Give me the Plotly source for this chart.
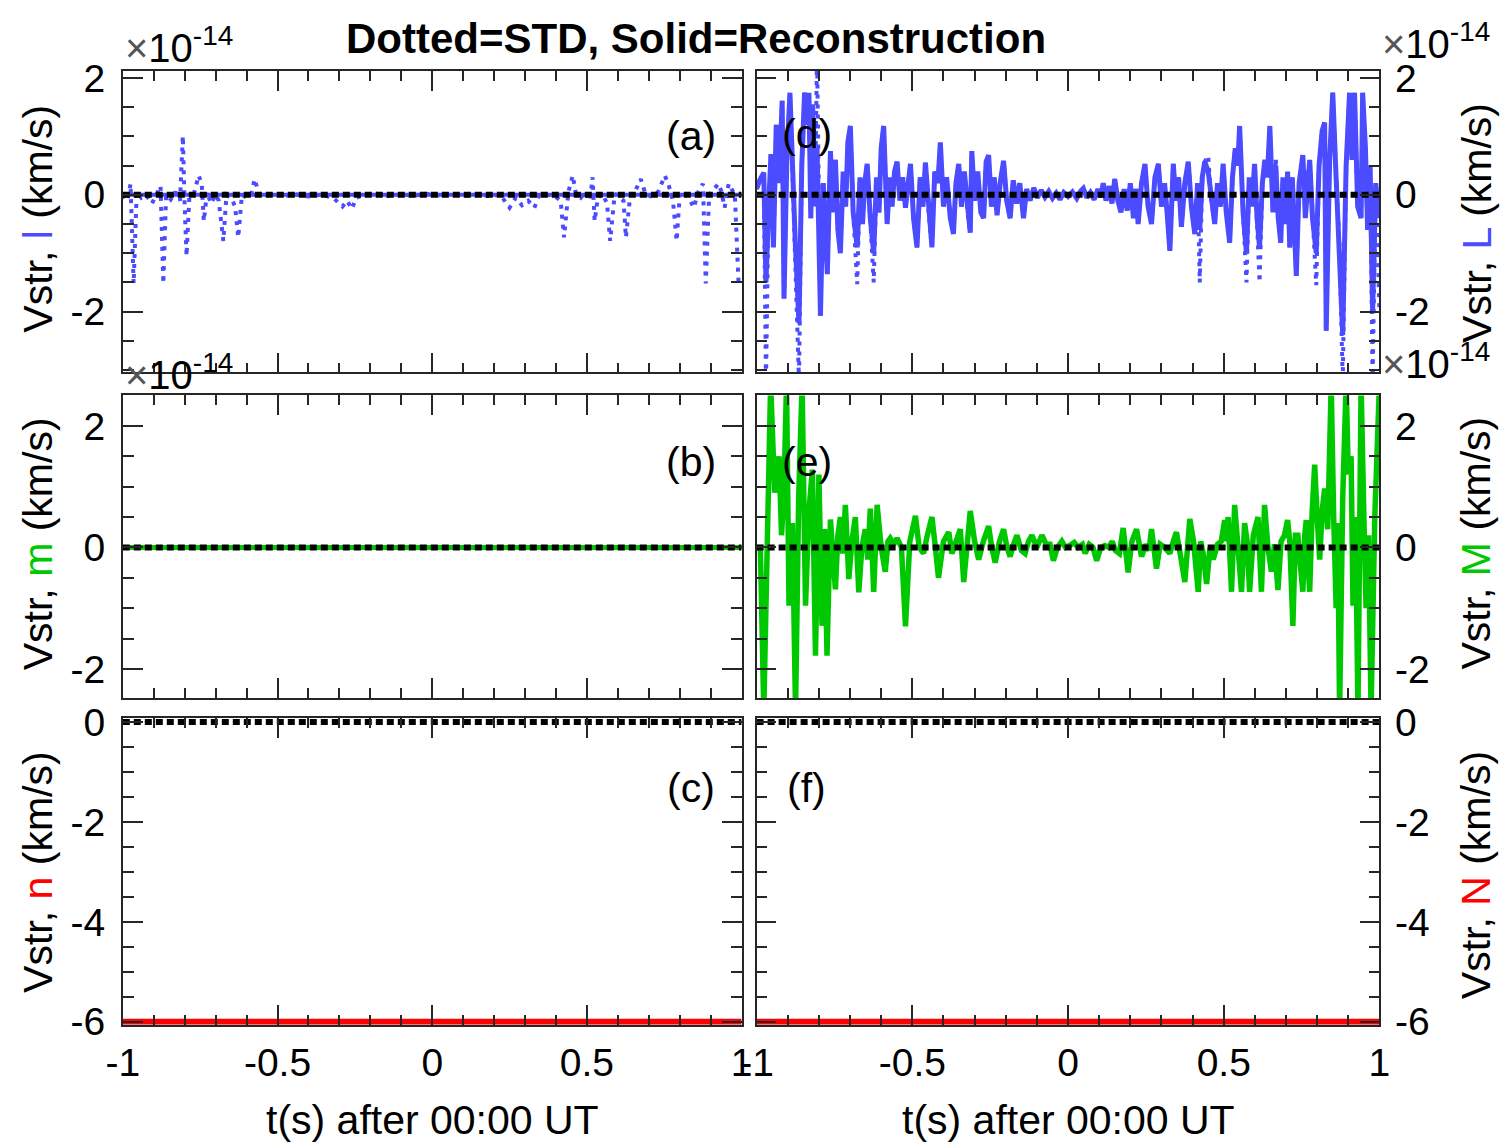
import plotly.graph_objects as go

# ---------------- data (values in units of 1e-14 km/s) ----------------
x_tickvals = [-1, -0.5, 0, 0.5, 1]
x_ticktext = ["-1", "-0.5", "0", "0.5", "1"]
y_tickvals_ab = [-2, 0, 2]
y_ticktext_ab = ["-2", "0", "2"]
y_tickvals_c = [-6, -4, -2, 0]
y_ticktext_c = ["-6", "-4", "-2", "0"]

line_t = [-1.0, 1.0]
zero_v = [0.0, 0.0]
n_recon = [-6.0, -6.0]

# panel (a): STD of l component (dotted blue)
a_t = [
    -1.000, -0.985, -0.975, -0.965, -0.955, -0.940, -0.925, -0.906, -0.890, -0.878,
    -0.869, -0.860, -0.845, -0.830, -0.815, -0.806, -0.800, -0.794, -0.785, -0.770,
    -0.755, -0.745, -0.738, -0.728, -0.715, -0.700, -0.690, -0.675, -0.665, -0.650,
    -0.637, -0.627, -0.615, -0.600, -0.585, -0.574, -0.560, -0.540, -0.520, -0.480,
    -0.440, -0.400, -0.360, -0.320, -0.290, -0.275, -0.260, -0.245, -0.220, -0.180,
    -0.140, -0.100, -0.060, -0.020, 0.020, 0.060, 0.100, 0.140, 0.180, 0.220,
    0.250, 0.270, 0.290, 0.310, 0.330, 0.345, 0.370, 0.395, 0.415, 0.426,
    0.440, 0.454, 0.465, 0.480, 0.495, 0.510, 0.518, 0.525, 0.535, 0.550,
    0.565, 0.575, 0.590, 0.605, 0.618, 0.626, 0.640, 0.655, 0.674, 0.690,
    0.710, 0.730, 0.752, 0.765, 0.778, 0.790, 0.800, 0.815, 0.830, 0.845,
    0.860, 0.875, 0.884, 0.895, 0.912, 0.925, 0.935, 0.945, 0.958, 0.968,
    0.978, 0.990, 1.000,
]
a_std = [
    0.00, -0.10, 0.19, -1.52, 0.05, -0.05, 0.00, -0.15, 0.02, 0.15,
    -1.52, 0.00, -0.08, 0.05, -0.10, 1.01, -0.20, -1.05, -0.05, 0.02,
    0.33, 0.20, -0.45, 0.05, -0.15, 0.00, -0.10, -0.79, 0.00, -0.05,
    -0.20, -0.73, 0.00, -0.05, 0.00, 0.27, 0.02, -0.03, 0.02, -0.02,
    0.01, -0.03, 0.00, -0.05, -0.20, -0.10, -0.24, -0.05, 0.00, 0.02,
    -0.02, 0.01, -0.02, 0.02, -0.01, 0.02, -0.02, 0.01, -0.02, 0.00,
    -0.22, -0.05, -0.18, -0.10, -0.22, -0.02, 0.00, -0.02, -0.10, -0.73,
    0.05, 0.33, 0.00, -0.05, 0.05, -0.10, 0.30, -0.45, -0.05, 0.02,
    -0.15, -0.79, 0.02, -0.05, -0.10, -0.73, 0.00, 0.05, 0.27, 0.00,
    -0.03, 0.05, 0.33, 0.15, -0.10, -0.79, 0.00, 0.05, -0.05, -0.22,
    0.05, 0.19, -1.52, 0.00, 0.10, 0.19, 0.05, -0.22, 0.19, 0.10,
    0.00, -1.52, -1.52,
]

# panel (d): L component, reconstruction (solid) and STD (dotted)
d_t = [
    -1.000, -0.990, -0.977, -0.970, -0.962, -0.954, -0.946, -0.937, -0.928, -0.918,
    -0.912, -0.903, -0.893, -0.885, -0.876, -0.864, -0.855, -0.846, -0.838, -0.832,
    -0.826, -0.820, -0.813, -0.806, -0.795, -0.786, -0.780, -0.773, -0.763, -0.755,
    -0.747, -0.739, -0.731, -0.722, -0.714, -0.707, -0.699, -0.690, -0.677, -0.668,
    -0.660, -0.653, -0.645, -0.635, -0.624, -0.615, -0.607, -0.600, -0.592, -0.581,
    -0.572, -0.565, -0.557, -0.549, -0.540, -0.531, -0.522, -0.514, -0.506, -0.496,
    -0.485, -0.475, -0.466, -0.458, -0.448, -0.437, -0.428, -0.418, -0.410, -0.400,
    -0.390, -0.378, -0.368, -0.360, -0.351, -0.342, -0.333, -0.323, -0.314, -0.309,
    -0.300, -0.290, -0.280, -0.271, -0.263, -0.255, -0.246, -0.237, -0.228, -0.218,
    -0.207, -0.197, -0.186, -0.176, -0.165, -0.155, -0.143, -0.133, -0.122, -0.110,
    -0.098, -0.086, -0.074, -0.062, -0.050, -0.038, -0.026, -0.014, 0.000, 0.014,
    0.028, 0.040, 0.049, 0.060, 0.072, 0.084, 0.096, 0.105, 0.113, 0.122,
    0.132, 0.141, 0.150, 0.160, 0.170, 0.180, 0.190, 0.200, 0.210, 0.218,
    0.225, 0.236, 0.247, 0.257, 0.268, 0.279, 0.290, 0.300, 0.310, 0.318,
    0.327, 0.338, 0.346, 0.355, 0.364, 0.375, 0.386, 0.396, 0.407, 0.416,
    0.423, 0.431, 0.439, 0.450, 0.460, 0.471, 0.480, 0.489, 0.498, 0.508,
    0.519, 0.528, 0.537, 0.545, 0.551, 0.562, 0.573, 0.582, 0.590, 0.599,
    0.607, 0.615, 0.624, 0.632, 0.640, 0.648, 0.658, 0.667, 0.675, 0.683,
    0.690, 0.698, 0.705, 0.712, 0.720, 0.726, 0.733, 0.742, 0.754, 0.762,
    0.770, 0.776, 0.785, 0.797, 0.806, 0.816, 0.824, 0.829, 0.840, 0.850,
    0.860, 0.872, 0.882, 0.893, 0.904, 0.912, 0.920, 0.930, 0.941, 0.946,
    0.955, 0.962, 0.970, 0.978, 0.988, 1.000,
]
d_recon = [
    0.10, 0.25, 0.38, -1.50, -0.30, 0.70, -0.90, 1.20, 0.20, 1.61,
    -1.78, 0.60, 1.75, 0.30, -0.80, -2.20, 0.50, 1.75, 1.20, 1.75,
    -0.40, 1.55, -0.20, 0.80, -2.07, 0.20, -0.60, -1.36, 0.75, -0.30,
    0.60, -0.60, -1.00, 0.40, -0.20, 0.90, 1.18, -0.30, -0.90, 0.30,
    -0.50, 0.20, 0.53, -0.40, -1.00, 0.30, -0.30, 0.80, 1.18, -0.50,
    0.30, -0.20, 0.40, 0.57, -0.10, 0.30, -0.22, 0.20, 0.53, -0.40,
    -0.90, 0.30, -0.20, 0.55, -0.30, -0.90, 0.40, 0.20, 0.90, -0.20,
    0.30, -0.40, -0.67, 0.20, 0.53, -0.20, 0.40, -0.30, -0.65, 0.75,
    -0.10, 0.40, -0.30, -0.40, 0.57, 0.68, -0.20, 0.30, -0.35, 0.20,
    0.58, -0.10, -0.40, 0.25, -0.15, 0.20, -0.40, 0.10, -0.10, 0.12,
    -0.05, 0.08, -0.04, 0.06, -0.06, 0.03, -0.08, 0.04, -0.03, 0.05,
    -0.06, 0.06, 0.11, -0.05, 0.04, -0.08, 0.10, -0.04, 0.20, -0.10,
    0.15, -0.15, 0.27, -0.10, -0.30, 0.10, -0.27, 0.20, -0.40, 0.10,
    -0.50, 0.20, 0.53, -0.20, -0.50, 0.30, 0.53, -0.20, 0.20, -0.30,
    -0.96, 0.53, -0.10, 0.30, -0.55, 0.20, 0.57, -0.20, -0.67, 0.20,
    -0.60, 0.30, 0.57, 0.40, -0.10, -0.50, 0.20, -0.20, 0.53, -0.30,
    -0.82, 0.30, 0.80, 0.50, 1.18, -0.30, -1.00, 0.30, -0.20, 0.53,
    -0.40, -0.90, 0.20, 0.60, 0.30, 1.18, -0.30, 0.50, -0.40, -0.82,
    0.30, -0.50, 0.40, -0.90, 0.30, -0.50, -1.39, 0.20, 0.68, -0.40,
    0.40, 0.60, -0.40, -1.00, 0.50, 1.10, 1.24, -2.33, 0.60, 1.75,
    0.40, -0.90, -2.40, 0.50, 1.75, 0.60, 1.75, -0.20, -0.40, 1.75,
    0.80, -0.60, 0.50, -2.00, 0.20, -0.40,
]
d_std = [
    0.10, 0.25, 0.38, -3.20, -0.30, 0.70, -0.90, 1.20, 0.20, 1.61,
    -1.78, 0.60, 1.75, 0.30, -0.80, -3.20, 0.50, 1.75, 1.20, 1.75,
    -0.40, 1.55, -0.20, 2.40, -2.07, 0.20, -0.60, -1.36, 0.75, -0.30,
    0.60, -0.60, -1.00, 0.40, -0.20, 0.90, 1.18, -0.30, -1.53, 0.30,
    -0.50, 0.20, 0.53, -0.40, -1.50, 0.30, -0.30, 0.80, 1.18, -0.50,
    0.30, -0.20, 0.40, 0.57, -0.10, 0.30, -0.22, 0.20, 0.53, -0.40,
    -0.90, 0.30, -0.20, 0.55, -0.30, -0.90, 0.40, 0.20, 0.90, -0.20,
    0.30, -0.40, -0.67, 0.20, 0.53, -0.20, 0.40, -0.30, -0.65, 0.75,
    -0.10, 0.40, -0.30, -0.40, 0.57, 0.68, -0.20, 0.30, -0.35, 0.20,
    0.58, -0.10, -0.40, 0.25, -0.15, 0.20, -0.40, 0.10, -0.10, 0.12,
    -0.05, 0.08, -0.04, 0.06, -0.06, 0.03, -0.08, 0.04, -0.03, 0.05,
    -0.06, 0.06, 0.11, -0.05, 0.04, -0.08, 0.10, -0.04, 0.20, -0.10,
    0.15, -0.15, 0.27, -0.10, -0.30, 0.10, -0.27, 0.20, -0.40, 0.10,
    -0.50, 0.20, 0.53, -0.20, -0.50, 0.30, 0.53, -0.20, 0.20, -0.30,
    -0.96, 0.53, -0.10, 0.30, -0.55, 0.20, 0.57, -0.20, -0.67, 0.20,
    -1.50, 0.30, 0.57, 0.67, -0.10, -0.50, 0.20, -0.20, 0.53, -0.30,
    -0.82, 0.30, 0.80, 0.50, 1.18, -0.30, -1.50, 0.30, -0.20, 0.53,
    -0.40, -1.50, 0.20, 0.60, 0.30, 1.18, -0.30, 0.62, -0.40, -0.82,
    0.30, -0.50, 0.40, -0.90, 0.30, -0.50, -1.39, 0.20, 0.68, -0.40,
    0.40, 0.60, -0.40, -1.55, 0.50, 1.10, 1.24, -2.33, 0.60, 1.75,
    0.40, -0.90, -3.20, 0.50, 1.75, 0.60, 1.75, -0.20, -0.40, 1.75,
    0.80, -0.60, 0.50, -3.20, 0.20, -2.00,
]

# panel (e): M component reconstruction (solid green)
e_t = [
    -1.000, -0.988, -0.977, -0.966, -0.955, -0.942, -0.928, -0.920, -0.912, -0.904,
    -0.896, -0.885, -0.875, -0.865, -0.854, -0.843, -0.832, -0.821, -0.811, -0.800,
    -0.790, -0.782, -0.774, -0.763, -0.755, -0.747, -0.739, -0.731, -0.723, -0.715,
    -0.704, -0.694, -0.683, -0.672, -0.662, -0.651, -0.643, -0.635, -0.624, -0.613,
    -0.600, -0.587, -0.578, -0.571, -0.560, -0.549, -0.535, -0.522, -0.508, -0.498,
    -0.490, -0.478, -0.464, -0.452, -0.437, -0.426, -0.416, -0.400, -0.383, -0.373,
    -0.360, -0.346, -0.335, -0.325, -0.314, -0.300, -0.287, -0.272, -0.255, -0.245,
    -0.234, -0.220, -0.207, -0.196, -0.186, -0.175, -0.164, -0.150, -0.138, -0.127,
    -0.116, -0.100, -0.084, -0.070, -0.058, -0.047, -0.034, -0.020, -0.008, 0.005,
    0.020, 0.032, 0.046, 0.055, 0.068, 0.080, 0.092, 0.105, 0.118, 0.130,
    0.142, 0.152, 0.165, 0.177, 0.193, 0.205, 0.220, 0.236, 0.250, 0.260,
    0.268, 0.284, 0.296, 0.310, 0.327, 0.338, 0.348, 0.360, 0.375, 0.391,
    0.403, 0.418, 0.426, 0.434, 0.445, 0.456, 0.466, 0.480, 0.492, 0.503,
    0.509, 0.514, 0.525, 0.535, 0.546, 0.557, 0.567, 0.575, 0.583, 0.595,
    0.610, 0.621, 0.631, 0.642, 0.653, 0.663, 0.674, 0.684, 0.695, 0.705,
    0.712, 0.722, 0.730, 0.738, 0.746, 0.754, 0.760, 0.765, 0.772, 0.776,
    0.784, 0.792, 0.800, 0.808, 0.816, 0.824, 0.834, 0.845, 0.853, 0.861,
    0.866, 0.872, 0.882, 0.893, 0.900, 0.909, 0.915, 0.923, 0.931, 0.941,
    0.950, 0.957, 0.965, 0.973, 0.985, 0.995, 1.000,
]
e_recon = [
    0.00, 0.00, -2.70, 0.50, 2.70, 0.90, 1.50, 0.20, 0.95, 2.70,
    -0.96, 0.40, -2.70, 0.80, 2.70, -0.96, 0.60, 1.28, -1.78, 1.20,
    -1.29, 0.30, -1.78, 0.46, -0.20, -0.69, 0.20, 0.50, -0.10, 0.70,
    -0.52, 0.10, 0.50, -0.74, 0.00, 0.30, -0.20, 0.64, -0.73, 0.70,
    0.00, -0.40, 0.10, 0.15, 0.05, 0.15, 0.00, -1.30, 0.10, 0.30,
    0.52, 0.00, -0.10, 0.20, 0.50, 0.00, -0.50, 0.10, 0.25, -0.10,
    0.10, 0.30, -0.57, 0.10, 0.60, 0.10, -0.20, 0.10, 0.35, 0.00,
    -0.25, 0.10, 0.30, 0.00, -0.15, 0.05, 0.20, -0.05, -0.10, 0.10,
    0.20, 0.00, 0.20, 0.05, 0.05, -0.22, 0.00, 0.10, 0.00, 0.03,
    0.08, 0.00, 0.05, -0.10, 0.05, 0.00, -0.22, 0.00, 0.03, 0.00,
    0.10, -0.05, -0.10, 0.32, -0.41, 0.10, 0.30, -0.15, 0.05, -0.05,
    0.30, -0.35, 0.05, 0.00, -0.10, 0.10, 0.25, -0.10, -0.57, 0.47,
    0.10, -0.73, 0.10, -0.10, -0.60, 0.00, -0.20, 0.05, 0.10, 0.45,
    0.10, 0.50, -0.73, 0.70, 0.10, -0.73, 0.40, 0.10, -0.73, 0.20,
    0.50, -0.73, 0.70, 0.00, -0.40, 0.05, -0.70, 0.10, 0.20, 0.45,
    0.10, -1.29, 0.20, 0.20, -0.30, -0.73, 0.20, 0.45, -0.40, -0.73,
    0.60, 1.36, 0.50, -0.20, 0.60, 0.97, 0.30, 2.70, 0.50, -1.00,
    0.40, -2.70, 0.80, 2.70, 1.20, 1.50, -0.96, 0.50, -2.70, 2.70,
    0.50, -1.00, 0.20, -2.70, 0.50, 2.70, 2.70,
]

# ---------------- styling ----------------
W, H = 1511, 1143
BLUE = "#4b4bff"
GREEN = "#00c800"
RED = "#ff0000"
AX = "#262626"
FONT = "Liberation Sans, Arial, sans-serif"
TICK_FS = 39
LAB_FS = 41

# the viewer frames the page with a small inset; place things so that the
# final picture lands on the reference pixel positions
OX, SX = 15.0, 0.9833
OY, SY = 16.1, 0.9696


def px(x):
    return ((x - OX) / SX) / W


def py(y):
    return 1 - ((y - OY) / SY) / H


col_dom = {1: [px(121), px(741)], 2: [px(756), px(1380)]}
row_dom = {1: [py(372), py(70)], 2: [py(698), py(395)], 3: [py(1025), py(718)]}
row_rng = {1: [-3.045, 2.125], 2: [-2.48, 2.5], 3: [-6.06, 0.08]}

fig = go.Figure()

# axis index: a=1, b=2, c=3 (left column), d=4, e=5, f=6 (right column)
panels = {1: (1, 1), 2: (2, 1), 3: (3, 1), 4: (1, 2), 5: (2, 2), 6: (3, 2)}

layout = dict(
    width=W, height=H, margin=dict(l=0, r=0, t=0, b=0),
    paper_bgcolor="white", plot_bgcolor="white", showlegend=False,
    font=dict(family=FONT, color="black"),
)

for k, (r, c) in panels.items():
    xs = "" if k == 1 else str(k)
    xname, yname = "xaxis" + xs, "yaxis" + xs
    bottom = (r == 3)
    layout[xname] = dict(
        domain=col_dom[c], anchor="y" + xs, range=[-1, 1],
        tickmode="array", tickvals=x_tickvals, ticktext=x_ticktext,
        ticks="inside", ticklen=20, tickwidth=1.5, tickcolor=AX,
        showline=True, linecolor=AX, linewidth=1.5, mirror="allticks",
        showgrid=False, zeroline=False, showticklabels=bottom,
        tickfont=dict(size=TICK_FS, family=FONT, color="black"),
        ticklabelstandoff=3,
        minor=dict(ticks="inside", dtick=0.1, tick0=-1, ticklen=10,
                   tickwidth=1.5, tickcolor=AX, showgrid=False),
    )
    if r == 3:
        tv, tt = y_tickvals_c, y_ticktext_c
    else:
        tv, tt = y_tickvals_ab, y_ticktext_ab
    layout[yname] = dict(
        domain=row_dom[r], anchor="x" + xs, range=row_rng[r],
        side="left" if c == 1 else "right",
        tickmode="array", tickvals=tv, ticktext=tt,
        ticks="inside", ticklen=20, tickwidth=1.5, tickcolor=AX,
        showline=True, linecolor=AX, linewidth=1.5, mirror="allticks",
        showgrid=False, zeroline=False, showticklabels=True,
        tickfont=dict(size=TICK_FS, family=FONT, color="black"),
        ticklabelstandoff=8 if c == 1 else 6,
        minor=dict(ticks="inside", dtick=0.5, tick0=0, ticklen=11,
                   tickwidth=1.5, tickcolor=AX, showgrid=False),
    )


def add(k, x, y, color, width, dash="solid"):
    xs = "" if k == 1 else str(k)
    fig.add_trace(go.Scatter(
        x=x, y=y, mode="lines", xaxis="x" + xs, yaxis="y" + xs,
        line=dict(color=color, width=width, dash=dash), hoverinfo="skip",
    ))


BLACK_DOT = "7px,4px"
BLUE_DOT = "4px,6px"

# (a)
add(1, line_t, zero_v, BLUE, 4)
add(1, a_t, a_std, BLUE, 4, BLUE_DOT)
add(1, line_t, zero_v, "black", 6, BLACK_DOT)
# (b)
add(2, line_t, zero_v, GREEN, 5)
add(2, line_t, zero_v, "black", 6, BLACK_DOT)
# (c)
add(3, line_t, n_recon, RED, 6)
add(3, line_t, zero_v, "black", 6, BLACK_DOT)
# (d)
add(4, d_t, d_std, BLUE, 4, BLUE_DOT)
add(4, d_t, d_recon, BLUE, 5)
add(4, line_t, zero_v, "black", 6, BLACK_DOT)
# (e)
add(5, e_t, e_recon, GREEN, 5.5)
add(5, line_t, zero_v, "black", 6, BLACK_DOT)
# (f)
add(6, line_t, n_recon, RED, 6)
add(6, line_t, zero_v, "black", 6, BLACK_DOT)

ann = []


def text(x, y, s, size=LAB_FS, angle=0, xanchor="center", yanchor="middle"):
    ann.append(dict(
        x=px(x), y=py(y), xref="paper", yref="paper", text=s, showarrow=False,
        textangle=angle, xanchor=xanchor, yanchor=yanchor,
        font=dict(size=size, family=FONT, color="black"),
    ))


text(695, 38, "<b>Dotted=STD, Solid=Reconstruction</b>", size=42)

# exponent labels
for (xx, yy) in [(121, 44), (121, 372), (1381, 40), (1381, 360)]:
    text(xx, yy, "<span style='color:#555555'>×</span>10<sup>-14</sup>",
         size=40, xanchor="left")

# panel letters
for (xx, yy, s) in [(690, 135, "(a)"), (690, 462, "(b)"), (690, 788, "(c)"),
                    (806, 133, "(d)"), (806, 462, "(e)"), (806, 788, "(f)")]:
    text(xx, yy, s, size=LAB_FS)


# y-axis labels
def ylab(comp, color):
    return f"Vstr, <span style='color:{color}'>{comp}</span> (km/s)"


text(36, 218, ylab("l", BLUE), angle=-90)
text(36, 543, ylab("m", GREEN), angle=-90)
text(36, 872, ylab("n", RED), angle=-90)
text(1477, 222, ylab("L", BLUE), angle=-90)
text(1477, 543, ylab("M", GREEN), angle=-90)
text(1477, 875, ylab("N", RED), angle=-90)

# x-axis titles
text(431, 1120, "t(s) after 00:00 UT", size=LAB_FS)
text(1068, 1120, "t(s) after 00:00 UT", size=LAB_FS)

layout["annotations"] = ann
fig.update_layout(**layout)

reset = ("var s=document.documentElement.style;s.margin='0';s.padding='0';s.overflow='hidden';"
         "var b=document.body.style;b.margin='0';b.padding='0';b.overflow='hidden';")
fig.write_html("out.html", post_script=reset,
               config={"displayModeBar": False})
